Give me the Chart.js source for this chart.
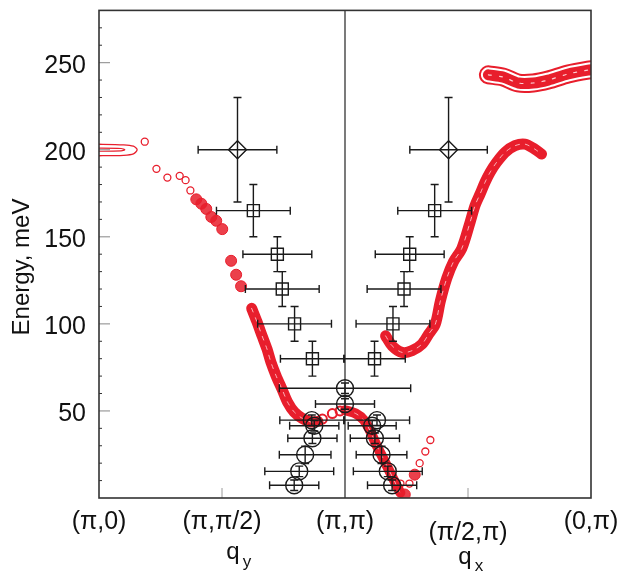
<!DOCTYPE html>
<html>
<head>
<meta charset="utf-8">
<script src="https://cdn.jsdelivr.net/npm/chart.js@4.4.1/dist/chart.umd.min.js"></script>
<style>
  html, body { margin: 0; padding: 0; background: #fff; }
</style>
</head>
<body>
<canvas id="grafico-01" width="618" height="572"></canvas>
<script>
// rotulos do eixo x (pontos de simetria) e posicoes
const xTickPos = [-2, -1, 0, 1, 2];
const xTickLabels = ['(π,0)', '(π,π/2)', '(π,π)', '(π/2,π)', '(0,π)'];

// pontos com barras de erro (losango, quadrado, circulo)
const diamondX = [-0.874, 0.842];
const diamondE = [200, 200];
const diamondXerr = [0.32, 0.315];
const diamondEerr = [30, 30];

const squareX = [-0.745, -0.55, -0.51, -0.41, -0.265, 0.729, 0.526, 0.48, 0.39, 0.24];
const squareE = [165, 140, 120, 100, 80, 165, 140, 120, 100, 80];
const squareXerr = [0.30, 0.28, 0.30, 0.30, 0.26, 0.30, 0.28, 0.30, 0.30, 0.25];
const squareEerr = [15, 10, 10, 10, 10, 15, 10, 10, 10, 10];

const circleX = [0, 0, -0.27, -0.25, -0.265, -0.324, -0.372, -0.413, 0.26, 0.221, 0.243, 0.297, 0.348, 0.383];
const circleE = [63, 54, 44.7, 41.5, 34.3, 24.8, 15.3, 7.3, 44.7, 41.5, 34.3, 24.8, 15.3, 7.3];
const circleXerr = [0.534, 0.24, 0.26, 0.2, 0.2, 0.21, 0.28, 0.2, 0.265, 0.195, 0.2, 0.206, 0.28, 0.2];
const circleEerr = [3, 3, 3, 3, 3, 5, 3, 3, 3, 3, 3, 5, 3, 3];

// contornos vermelhos (intensidade calculada)
const loopOuterX = [-2.05, -1.80, -1.72, -1.69, -1.72, -1.80, -2.05];
const loopOuterE = [203.2, 202.8, 202, 200, 197.6, 196.8, 196.5];
const loopInnerX = [-2.05, -1.82, -1.79, -1.82, -2.05];
const loopInnerE = [200.9, 200.7, 200, 199.3, 199.1];

const ringsX = [-1.628, -1.533, -1.444, -1.344, -1.296, -1.257, 0.451, 0.524, 0.607, 0.653, 0.694];
const ringsE = [204.6, 189, 184, 185, 182.5, 176.6, 8.3, 8.3, 20, 26.7, 33.3];

const blobsX = [-1.209, -1.168, -1.128, -1.087, -1.047, -0.998, -0.926, -0.885, -0.845, 0.567, 0.486];
const blobsE = [171.5, 169, 166, 161.4, 159.2, 154.4, 136.2, 128.2, 121.6, 13.4, 2];

const leftChainX = [-0.759, -0.718, -0.674, -0.634, -0.602, -0.561, -0.508, -0.467, -0.413, -0.346, -0.278, -0.22];
const leftChainE = [108.9, 101.6, 93.1, 85.5, 77.9, 70.3, 61.8, 55.1, 49.4, 45.7, 43.7, 44];

const midRingsX = [-0.184, -0.103, -0.04];
const midRingsE = [45.3, 48.5, 50];

const rightDropX = [0.0, 0.087, 0.154, 0.208, 0.249, 0.289, 0.343, 0.383, 0.423, 0.45];
const rightDropE = [50.4, 48.5, 44.7, 38, 31.4, 25.7, 18.1, 12.4, 6.7, 3];

const branchX = [0.33, 0.383, 0.464, 0.545, 0.626, 0.68, 0.734, 0.775, 0.828, 0.883, 0.95, 1.018, 1.058, 1.099, 1.139, 1.18, 1.233, 1.301, 1.382, 1.463, 1.544, 1.598];
const branchE = [93.1, 87.4, 83.6, 84.6, 88.4, 94.1, 99.8, 113, 126.3, 135.8, 143.4, 158.6, 168.1, 174.7, 181.4, 187.1, 192.8, 198.5, 202.3, 203.2, 200.3, 197.5];

const bandX = [1.166, 1.287, 1.409, 1.53, 1.652, 1.814, 1.976, 2.05];
const bandE = [243, 241.7, 238.3, 238.3, 240, 243.5, 245.7, 246.3];

const RED = 'rgb(232,30,44)';
const FONT = 'Liberation Sans, Arial, Helvetica, sans-serif';

function pts(xs, es) {
  return xs.map((v, i) => ({ x: v, y: es[i] }));
}

function linha(xs, es, cor, w, dash) {
  return { data: pts(xs, es), showLine: true, borderColor: cor, borderWidth: w, pointRadius: 0,
    tension: 0.3, borderCapStyle: 'round', borderJoinStyle: 'round', fill: false,
    borderDash: dash || [] };
}

// desenha barras de erro horizontais e verticais com "caps"
function desenhaBarras(ctx, sx, sy, xs, es, xerr, eerr) {
  const cap = 4;
  ctx.strokeStyle = '#1a1a1a';
  ctx.lineWidth = 1.4;
  for (let i = 0; i < xs.length; i++) {
    const px = sx.getPixelForValue(xs[i]);
    const py = sy.getPixelForValue(es[i]);
    const x1 = sx.getPixelForValue(xs[i] - xerr[i]);
    const x2 = sx.getPixelForValue(xs[i] + xerr[i]);
    const y1 = sy.getPixelForValue(es[i] - eerr[i]);
    const y2 = sy.getPixelForValue(es[i] + eerr[i]);
    ctx.beginPath();
    ctx.moveTo(x1, py); ctx.lineTo(x2, py);
    ctx.moveTo(x1, py - cap); ctx.lineTo(x1, py + cap);
    ctx.moveTo(x2, py - cap); ctx.lineTo(x2, py + cap);
    ctx.moveTo(px, y1); ctx.lineTo(px, y2);
    ctx.moveTo(px - cap, y1); ctx.lineTo(px + cap, y1);
    ctx.moveTo(px - cap, y2); ctx.lineTo(px + cap, y2);
    ctx.stroke();
  }
}

const moldura = {
  id: 'moldura',
  afterDatasetsDraw(chart) {
    const { ctx, chartArea: a, scales: { x, y } } = chart;
    ctx.save();
    desenhaBarras(ctx, x, y, diamondX, diamondE, diamondXerr, diamondEerr);
    desenhaBarras(ctx, x, y, squareX, squareE, squareXerr, squareEerr);
    desenhaBarras(ctx, x, y, circleX, circleE, circleXerr, circleEerr);

    // ticks do eixo y (para dentro)
    for (let v = 10; v < 280; v += 10) {
      const py = y.getPixelForValue(v);
      ctx.beginPath();
      if (v % 50 === 0) {
        ctx.strokeStyle = '#9a9a9a'; ctx.lineWidth = 1.2;
        ctx.moveTo(a.left, py); ctx.lineTo(a.left + 11, py);
      } else {
        ctx.strokeStyle = '#333'; ctx.lineWidth = 1;
        ctx.moveTo(a.left, py); ctx.lineTo(a.left + 3, py);
      }
      ctx.stroke();
    }
    // ticks do eixo x
    ctx.strokeStyle = '#9a9a9a'; ctx.lineWidth = 1;
    [-1, 1].forEach(v => {
      const px = x.getPixelForValue(v);
      ctx.beginPath(); ctx.moveTo(px, a.bottom); ctx.lineTo(px, a.bottom - 10); ctx.stroke();
    });
    // linha vertical em (pi,pi)
    ctx.strokeStyle = '#222'; ctx.lineWidth = 1.2;
    const p0 = x.getPixelForValue(0);
    ctx.beginPath(); ctx.moveTo(p0, a.top); ctx.lineTo(p0, a.bottom); ctx.stroke();
    // moldura
    ctx.strokeStyle = '#333'; ctx.lineWidth = 1.6;
    ctx.strokeRect(a.left, a.top, a.right - a.left, a.bottom - a.top);

    // rotulos do eixo x
    ctx.fillStyle = '#111';
    ctx.textAlign = 'center'; ctx.textBaseline = 'middle';
    ctx.font = '25px ' + FONT;
    xTickLabels.forEach((t, i) => {
      const py = xTickPos[i] === 1 ? 533 : 522;
      ctx.fillText(t, x.getPixelForValue(xTickPos[i]), py);
    });
    ctx.font = '24px ' + FONT;
    ctx.fillText('q', 233, 552);
    ctx.fillText('q', 465, 557);
    ctx.font = '17px ' + FONT;
    ctx.fillText('y', 247, 562);
    ctx.fillText('x', 479, 566);

    // titulo do eixo y
    ctx.save();
    ctx.translate(22, 267);
    ctx.rotate(-Math.PI / 2);
    ctx.font = '24px ' + FONT;
    ctx.fillText('Energy, meV', 0, 0);
    ctx.restore();
    ctx.restore();
  }
};

const datasets = [
  { data: pts(diamondX, diamondE), pointStyle: 'rectRot', pointRadius: 9, borderColor: '#1a1a1a', borderWidth: 1.4, backgroundColor: 'rgba(0,0,0,0)' },
  { data: pts(squareX, squareE), pointStyle: 'rect', pointRadius: 8.5, borderColor: '#1a1a1a', borderWidth: 1.4, backgroundColor: 'rgba(0,0,0,0)' },
  { data: pts(circleX, circleE), pointStyle: 'circle', pointRadius: 8.5, borderColor: '#1a1a1a', borderWidth: 1.4, backgroundColor: 'rgba(0,0,0,0)' },
  linha(loopOuterX, loopOuterE, RED, 1.3),
  linha(loopInnerX, loopInnerE, RED, 1.2),
  { data: pts(ringsX, ringsE), pointStyle: 'circle', pointRadius: 3.5, borderColor: RED, borderWidth: 1.3, backgroundColor: 'rgba(0,0,0,0)' },
  { data: pts(blobsX, blobsE), pointStyle: 'circle', pointRadius: 5.5, borderColor: RED, borderWidth: 1, backgroundColor: 'rgba(232,30,44,0.85)' },
  { data: pts(midRingsX, midRingsE), pointStyle: 'circle', pointRadius: 4.5, borderColor: RED, borderWidth: 2, backgroundColor: 'rgba(0,0,0,0)' },
  // textura de contorno sobre as cadeias
  linha(leftChainX, leftChainE, 'rgba(255,215,220,0.8)', 1, [4, 6]),
  linha(rightDropX, rightDropE, 'rgba(255,215,220,0.8)', 1, [4, 6]),
  linha(branchX, branchE, 'rgba(255,215,220,0.8)', 1, [4, 6]),
  linha(leftChainX, leftChainE, RED, 11),
  linha(rightDropX, rightDropE, RED, 10),
  linha(branchX, branchE, RED, 11),
  linha(bandX, bandE, 'rgba(255,225,230,0.9)', 1.2, [3, 8]),
  linha(bandX, bandE, RED, 11),
  linha(bandX, bandE, '#fff', 15),
  linha(bandX, bandE, RED, 19)
];

const config = {
  type: 'scatter',
  data: { datasets: datasets },
  options: {
    responsive: false,
    animation: false,
    layout: { padding: { left: 8, right: 27, top: 6, bottom: 74 } },
    plugins: { legend: { display: false }, tooltip: { enabled: false } },
    scales: {
      x: { type: 'linear', min: -2, max: 2, display: false },
      y: {
        type: 'linear', min: 0, max: 280,
        grid: { display: false, drawTicks: false },
        border: { display: false },
        ticks: {
          stepSize: 50, includeBounds: false, padding: 13, labelOffset: 3, color: '#111',
          font: { family: FONT, size: 25 },
          callback: v => (v === 0 ? '' : v)
        },
        afterFit: s => { s.width = 91; s.paddingTop = 0; s.paddingBottom = 0; }
      }
    }
  },
  plugins: [moldura]
};

window.onload = function () {
  let ctx = document.getElementById('grafico-01').getContext('2d');
  window.grafico = new Chart(ctx, config);
};
</script>
</body>
</html>
